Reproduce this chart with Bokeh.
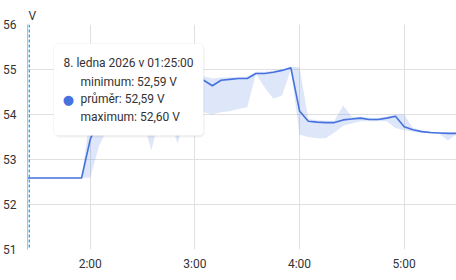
from bokeh.plotting import figure
from bokeh.models import ColumnDataSource, FixedTicker, Span, Label, BoxAnnotation
from bokeh.embed import file_html
from bokeh.resources import INLINE

# ---- data (5-minute statistics) ----
times = ["01:20", "01:25", "01:30", "01:35", "01:40", "01:45", "01:50", "01:55",
         "02:00", "02:05", "02:10", "02:15", "02:20", "02:25", "02:30", "02:35",
         "02:40", "02:45", "02:50", "02:55", "03:00", "03:05", "03:10", "03:15",
         "03:20", "03:25", "03:30", "03:35", "03:40", "03:45", "03:50", "03:55",
         "04:00", "04:05", "04:10", "04:15", "04:20", "04:25", "04:30", "04:35",
         "04:40", "04:45", "04:50", "04:55", "05:00", "05:05", "05:10", "05:15",
         "05:20", "05:25", "05:30"]
mean = [52.59, 52.59, 52.59, 52.59, 52.59, 52.59, 52.59, 52.59,
        53.45, 53.90, 54.10, 54.20, 54.30, 54.35, 54.40, 54.40,
        54.50, 54.55, 54.60, 54.65, 54.70, 54.76, 54.64, 54.76,
        54.78, 54.80, 54.80, 54.91, 54.91, 54.94, 54.98, 55.04,
        54.08, 53.85, 53.83, 53.82, 53.82, 53.88, 53.90, 53.92,
        53.89, 53.89, 53.92, 53.96, 53.73, 53.66, 53.62, 53.60,
        53.59, 53.58, 53.58]
vmin = [52.59, 52.59, 52.59, 52.59, 52.59, 52.59, 52.59, 52.59,
        52.60, 53.30, 53.70, 53.80, 53.90, 53.90, 53.90, 53.20,
        54.00, 54.00, 53.35, 54.00, 54.00, 54.05, 54.00, 54.05,
        54.07, 54.12, 54.16, 54.90, 54.60, 54.35, 54.42, 55.00,
        53.55, 53.50, 53.47, 53.47, 53.60, 53.75, 53.80, 53.85,
        53.85, 53.85, 53.85, 53.70, 53.65, 53.62, 53.60, 53.58,
        53.57, 53.42, 53.56]
vmax = [52.60, 52.60, 52.60, 52.60, 52.60, 52.60, 52.60, 52.60,
        54.00, 54.20, 54.30, 54.40, 54.50, 54.55, 54.60, 54.60,
        54.70, 54.70, 54.75, 54.80, 54.85, 54.85, 54.80, 54.82,
        54.82, 54.84, 54.84, 54.95, 54.95, 54.98, 55.00, 55.06,
        55.05, 53.90, 53.87, 53.86, 53.86, 54.20, 53.95, 53.95,
        53.93, 53.92, 53.95, 54.00, 54.00, 53.70, 53.65, 53.62,
        53.60, 53.60, 53.60]

x_ticks = [2, 3, 4, 5]
x_tick_labels = ["2:00", "3:00", "4:00", "5:00"]
y_ticks = [51, 52, 53, 54, 55, 56]

hover_time = "01:25"
tooltip_title = "8. ledna 2026 v 01:25:00"
tooltip_rows = ["minimum: 52,59 V", "průměr: 52,59 V", "maximum: 52,60 V"]
unit = "V"


def to_hours(t):
    h, m = t.split(":")
    return int(h) + int(m) / 60.0


xs = [to_hours(t) for t in times]
src = ColumnDataSource(dict(x=xs, mean=mean, vmin=vmin, vmax=vmax))

BLUE = "#4672df"
FONT = "Roboto"
TXT = "#333333"

p = figure(width=456, height=280, output_backend="svg", toolbar_location=None,
           x_range=(1.4, 5.5), y_range=(51, 56),
           min_border_left=26, min_border_right=0, min_border_top=24,
           min_border_bottom=31)
p.outline_line_color = None
p.background_fill_color = "white"
p.border_fill_color = "white"

# unit label as a left-aligned title above the frame
p.title.text = unit
p.title.align = "left"
p.title.offset = 1
p.title.standoff = 4
p.title.text_font = FONT
p.title.text_font_size = "12px"
p.title.text_font_style = "normal"
p.title.text_color = TXT

p.varea(x="x", y1="vmin", y2="vmax", source=src, fill_color=BLUE, fill_alpha=0.18)
p.line(x="x", y="mean", source=src, line_color=BLUE, line_width=1.6)

# axes
p.xaxis.ticker = FixedTicker(ticks=x_ticks)
p.xaxis.major_label_overrides = {t: l for t, l in zip(x_ticks, x_tick_labels)}
p.yaxis.ticker = FixedTicker(ticks=y_ticks)
for ax in (p.xaxis, p.yaxis):
    ax.major_tick_line_color = None
    ax.minor_tick_line_color = None
    ax.major_label_text_font = FONT
    ax.major_label_text_font_size = "12px"
    ax.major_label_text_color = TXT
p.xaxis.axis_line_color = None
p.yaxis.axis_line_color = "#bdbdbd"
p.xaxis.major_label_standoff = 1
p.yaxis.major_label_standoff = 5

p.xgrid.grid_line_color = "#e0e0e0"
p.ygrid.grid_line_color = "#e0e0e0"

# crosshair at hovered time
p.add_layout(Span(location=to_hours(hover_time), dimension="height",
                  line_color="#1ea0ec", line_dash="3 2", line_width=1.3))

# tooltip
p.add_layout(BoxAnnotation(left=27, right=177, top=205, bottom=112,
                           left_units="screen", right_units="screen",
                           top_units="screen", bottom_units="screen",
                           fill_color="#000000", fill_alpha=0.06, line_color=None,
                           border_radius=5))
p.add_layout(BoxAnnotation(left=26, right=176, top=206, bottom=114,
                           left_units="screen", right_units="screen",
                           top_units="screen", bottom_units="screen",
                           fill_color="white", fill_alpha=1.0, line_color="#e6e6e6",
                           line_width=1, border_radius=4))
p.add_layout(Label(x=36, y=187, x_units="screen", y_units="screen", text=tooltip_title,
                   text_font=FONT, text_font_size="12px", text_color=TXT,
                   text_align="left", text_baseline="middle"))
for i, row in enumerate(tooltip_rows):
    p.add_layout(Label(x=53, y=168 - i * 17.5, x_units="screen", y_units="screen", text=row,
                       text_font=FONT, text_font_size="12px", text_color=TXT,
                       text_align="left", text_baseline="middle"))
p.add_layout(Label(x=41, y=150.5, x_units="screen", y_units="screen", text="●",
                   text_font="DejaVu Sans", text_font_size="13px", text_color=BLUE,
                   text_align="center", text_baseline="middle"))

open("out.html", "w").write(file_html(p, INLINE))
